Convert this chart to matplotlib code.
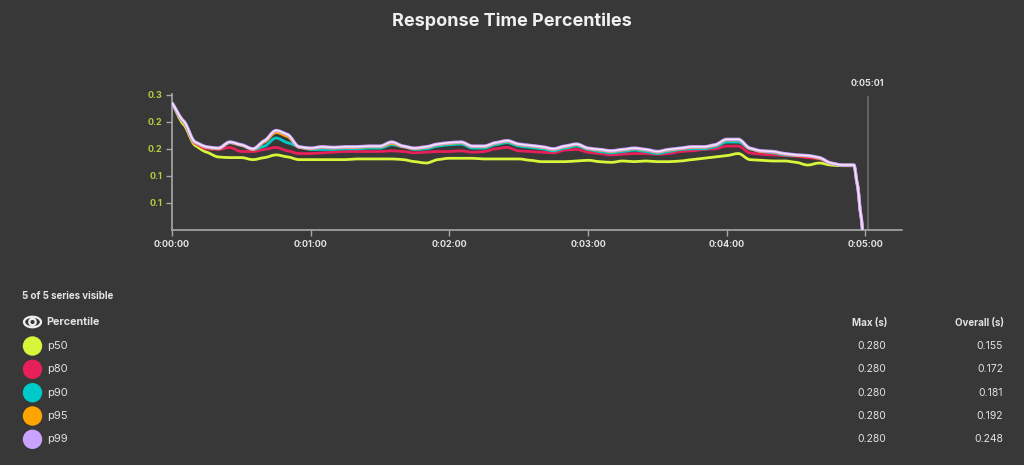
import matplotlib
matplotlib.use("Agg")
import numpy as np
import matplotlib.pyplot as plt
import matplotlib.transforms as mtransforms
from matplotlib.path import Path
from matplotlib.patches import Circle, Ellipse, PathPatch
from matplotlib.ticker import FuncFormatter, FormatStrFormatter

# --- data (response times in seconds, sampled every 5 s) ---
seconds = list(range(0, 300, 5)) + [296.5, 298, 300]
drop_tail = [0.127, 0.082, 0.0]

p50 = [0.248, 0.216, 0.185, 0.175, 0.168, 0.167, 0.167, 0.164, 0.167, 0.171,
       0.168, 0.164, 0.164, 0.164, 0.164, 0.164, 0.165, 0.165, 0.165, 0.165,
       0.164, 0.161, 0.159, 0.164, 0.166, 0.166, 0.166, 0.165, 0.165, 0.165,
       0.165, 0.163, 0.161, 0.161, 0.161, 0.162, 0.163, 0.161, 0.160, 0.162,
       0.161, 0.162, 0.161, 0.161, 0.162, 0.164, 0.166, 0.168, 0.170, 0.173,
       0.164, 0.163, 0.162, 0.162, 0.160, 0.156, 0.159, 0.156, 0.155, 0.155] + drop_tail
p80 = [0.248, 0.220, 0.188, 0.180, 0.179, 0.182, 0.176, 0.176, 0.179, 0.182,
       0.177, 0.173, 0.173, 0.174, 0.175, 0.176, 0.176, 0.176, 0.176, 0.177,
       0.176, 0.174, 0.175, 0.176, 0.176, 0.177, 0.175, 0.176, 0.180, 0.182,
       0.177, 0.176, 0.175, 0.174, 0.178, 0.179, 0.175, 0.173, 0.171, 0.172,
       0.173, 0.173, 0.172, 0.173, 0.176, 0.177, 0.179, 0.180, 0.184, 0.184,
       0.174, 0.172, 0.171, 0.170, 0.169, 0.167, 0.165, 0.159, 0.156, 0.155] + drop_tail
p90 = [0.248, 0.221, 0.190, 0.182, 0.180, 0.189, 0.185, 0.179, 0.184, 0.196,
       0.189, 0.183, 0.179, 0.179, 0.179, 0.180, 0.180, 0.181, 0.181, 0.186,
       0.183, 0.179, 0.180, 0.184, 0.186, 0.187, 0.181, 0.181, 0.186, 0.189,
       0.184, 0.182, 0.180, 0.177, 0.181, 0.184, 0.179, 0.176, 0.174, 0.176,
       0.178, 0.176, 0.173, 0.176, 0.179, 0.180, 0.180, 0.183, 0.190, 0.190,
       0.180, 0.176, 0.174, 0.171, 0.170, 0.170, 0.166, 0.159, 0.156, 0.156] + drop_tail
p95 = [0.248, 0.221, 0.189, 0.182, 0.180, 0.189, 0.185, 0.179, 0.190, 0.204,
       0.198, 0.182, 0.180, 0.182, 0.181, 0.182, 0.182, 0.183, 0.183, 0.188,
       0.183, 0.180, 0.182, 0.186, 0.188, 0.189, 0.183, 0.183, 0.188, 0.191,
       0.186, 0.184, 0.182, 0.179, 0.183, 0.186, 0.180, 0.178, 0.176, 0.178,
       0.180, 0.178, 0.175, 0.178, 0.180, 0.182, 0.182, 0.185, 0.193, 0.193,
       0.180, 0.176, 0.175, 0.172, 0.170, 0.169, 0.166, 0.159, 0.156, 0.156] + drop_tail
p99 = [0.248, 0.221, 0.190, 0.183, 0.181, 0.190, 0.186, 0.180, 0.192, 0.207,
       0.201, 0.183, 0.181, 0.183, 0.182, 0.183, 0.183, 0.184, 0.184, 0.190,
       0.184, 0.181, 0.183, 0.187, 0.189, 0.190, 0.184, 0.184, 0.189, 0.192,
       0.187, 0.185, 0.183, 0.180, 0.184, 0.187, 0.181, 0.179, 0.177, 0.179,
       0.181, 0.179, 0.176, 0.179, 0.181, 0.183, 0.183, 0.186, 0.194, 0.194,
       0.181, 0.177, 0.176, 0.173, 0.171, 0.170, 0.167, 0.159, 0.156, 0.156] + drop_tail

series_names = ["p50", "p80", "p90", "p95", "p99"]
series_values = [p50, p80, p90, p95, p99]
series_colors = ["#d7f53a", "#e8205a", "#00c9c9", "#ffa500", "#c9a3ff"]
max_s = ["0.280", "0.280", "0.280", "0.280", "0.280"]
overall_s = ["0.155", "0.172", "0.181", "0.192", "0.248"]

y_ticks = [0.10, 0.14, 0.18, 0.22, 0.26]
x_ticks = [0, 60, 120, 180, 240, 300]
cursor_time = 301

BG = "#383838"
AXIS = "#a8a8a8"
TEXT = "#e2e2e2"

plt.rcParams['font.family'] = ['Inter', 'DejaVu Sans']


def hms(sec, pos=None):
    sec = int(round(sec))
    return "%d:%02d:%02d" % (sec // 3600, (sec % 3600) // 60, sec % 60)


def monotone_path(xs, ys):
    # monotone cubic bezier through the points (like d3 curveMonotoneX)
    x = np.asarray(xs, float)
    y = np.asarray(ys, float)
    h = np.diff(x)
    s = np.diff(y) / h
    m = np.zeros_like(y)
    m[0], m[-1] = s[0], s[-1]
    for k in range(1, len(y) - 1):
        if s[k - 1] * s[k] <= 0:
            m[k] = 0
        else:
            p = (s[k - 1] * h[k] + s[k] * h[k - 1]) / (h[k - 1] + h[k])
            m[k] = np.sign(s[k]) * min(abs(s[k - 1]), abs(s[k]), 0.5 * abs(p))
    verts = [(x[0], y[0])]
    codes = [Path.MOVETO]
    for k in range(len(x) - 1):
        d = h[k] / 3
        verts += [(x[k] + d, y[k] + m[k] * d), (x[k + 1] - d, y[k + 1] - m[k + 1] * d),
                  (x[k + 1], y[k + 1])]
        codes += [Path.CURVE4] * 3
    return Path(verts, codes)


fig = plt.figure(figsize=(10.24, 4.65), dpi=100, facecolor=BG)
fig.text(0.5, 1 - 21 / 465, "Response Time Percentiles", ha="center", va="center",
         color="#f0f0f0", fontsize=13, fontweight="bold")

ax = fig.add_axes([172 / 1024, 1 - 230 / 465, 730 / 1024, 136 / 465])
ax.set_facecolor(BG)
for name, vals, col in zip(series_names, series_values, series_colors):
    path = monotone_path(seconds, vals)
    if name == "p99":
        ax.add_patch(PathPatch(path, fill=False, ec=col, lw=2.4, joinstyle="round", zorder=5))
        ax.add_patch(PathPatch(path, fill=False, ec="#fbe9f4", lw=1.0, joinstyle="round", zorder=6))
    else:
        ax.add_patch(PathPatch(path, fill=False, ec=col, lw=2.0, joinstyle="round", zorder=3))

ax.axvline(cursor_time, ymax=0.98, color="#6c6c6c", lw=1.2, zorder=1)
trans = mtransforms.blended_transform_factory(ax.transData, ax.transAxes)
ax.text(cursor_time, 1.045, hms(cursor_time), transform=trans, ha="center", va="bottom",
        color=TEXT, fontsize=6.5, fontweight="bold")

ax.set_xlim(0, 315.8)
ax.set_ylim(0.06, 0.261)
ax.set_xticks(x_ticks)
ax.xaxis.set_major_formatter(FuncFormatter(hms))
ax.set_yticks(y_ticks)
ax.yaxis.set_major_formatter(FormatStrFormatter("%.1f"))
for s in ["top", "right"]:
    ax.spines[s].set_visible(False)
for s in ["left", "bottom"]:
    ax.spines[s].set_color(AXIS)
    ax.spines[s].set_linewidth(1.2)
ax.tick_params(axis="both", colors=AXIS, length=4, width=1, direction="out")
ax.tick_params(axis="x", labelcolor=TEXT, labelsize=6.5, pad=3)
ax.tick_params(axis="y", labelcolor="#b9cc3c", labelsize=6.5, pad=3)
for lab in ax.get_xticklabels() + ax.get_yticklabels():
    lab.set_fontweight("bold")

# --- legend table drawn in pixel coordinates ---
lax = fig.add_axes([0, 0, 1, 1])
lax.set_xlim(0, 1024)
lax.set_ylim(465, 0)
lax.axis("off")
lax.patch.set_visible(False)

lax.text(22, 296, "5 of 5 series visible", color=TEXT, fontsize=7, fontweight="bold",
         ha="left", va="center")
lax.add_patch(Ellipse((32.5, 322), 17, 10.5, fill=False, ec="#f0f0f0", lw=1.6))
lax.add_patch(Circle((32.5, 322), 3.2, fill=False, ec="#f0f0f0", lw=1.6))
lax.text(46, 322, "Percentile", color=TEXT, fontsize=7.8, fontweight="bold",
         ha="left", va="center")
lax.text(887, 323, "Max (s)", color=TEXT, fontsize=7, fontweight="bold",
         ha="right", va="center")
lax.text(1004, 323, "Overall (s)", color=TEXT, fontsize=7, fontweight="bold",
         ha="right", va="center")

row_y = [346, 369.3, 392.7, 416, 439.3]
for y, name, col, mx, ov in zip(row_y, series_names, series_colors, max_s, overall_s):
    lax.add_patch(Circle((32.5, y), 9.7, color=col, lw=0))
    lax.text(47, y, name, color=TEXT, fontsize=8, ha="left", va="center")
    lax.text(886, y, mx, color=TEXT, fontsize=7.5, ha="right", va="center")
    lax.text(1003, y, ov, color=TEXT, fontsize=7.5, ha="right", va="center")

fig.savefig("out.png", dpi=100, facecolor=BG)
